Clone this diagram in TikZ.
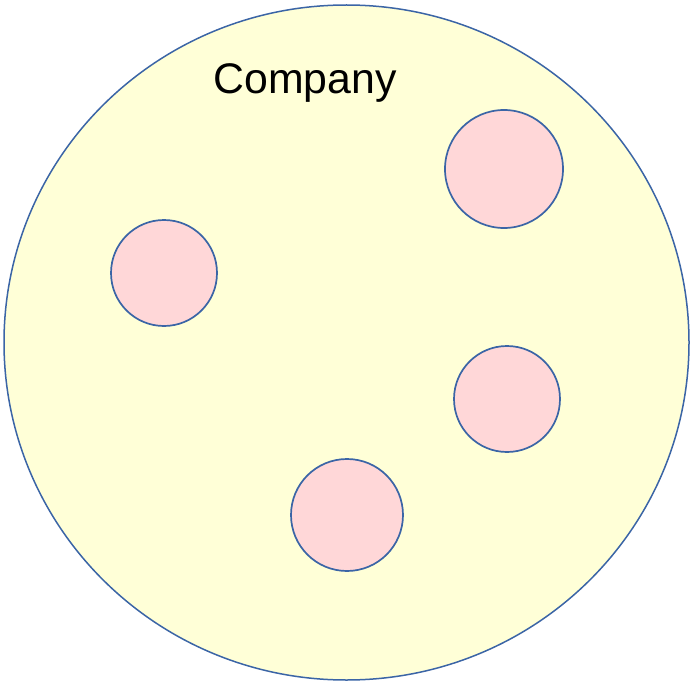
\documentclass[tikz,border=0pt]{standalone}
\usepackage{fontspec}
\setmainfont{Liberation Sans}
\definecolor{edgeblue}{HTML}{3B65A6}
\definecolor{bigfill}{HTML}{FFFFD7}
\definecolor{smallfill}{HTML}{FFD7D8}
\begin{document}
\begin{tikzpicture}[x=1pt,y=-1pt,
  bigcirc/.style={draw=edgeblue,line width=1.5pt,fill=bigfill},
  smallcirc/.style={draw=edgeblue,line width=1.7pt,fill=smallfill,circle,inner sep=0pt}]
\useasboundingbox (0,0) rectangle (693,682);
\draw[bigcirc] (346.5,342.5) ellipse [x radius=342.5, y radius=337.5];
\node[font=\fontsize{42.8}{50}\selectfont] (label) at (305,83) {Company};
\node[smallcirc,minimum size=118pt] (c1) at (504,169) {};
\node[smallcirc,minimum size=106pt] (c2) at (164,273) {};
\node[smallcirc,minimum size=106pt] (c3) at (507,399) {};
\node[smallcirc,minimum size=112pt] (c4) at (347,515) {};
\end{tikzpicture}
\end{document}
